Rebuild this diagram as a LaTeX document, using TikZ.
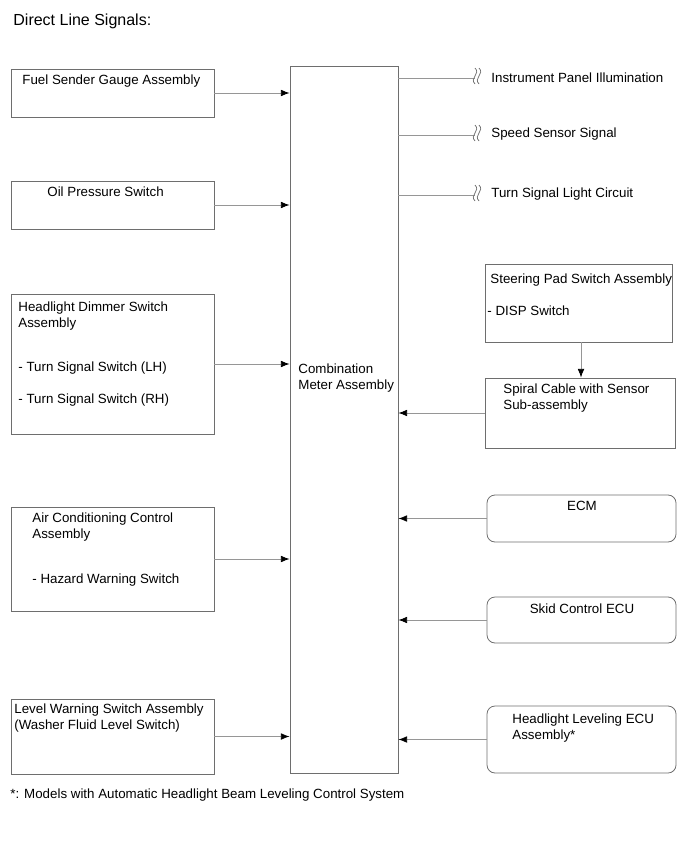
\documentclass[tikz,border=0pt]{standalone}
\usepackage{fontspec}
\setmainfont{Liberation Sans}
\usetikzlibrary{arrows.meta,fit}

\definecolor{boxgray}{RGB}{110,110,110}
\definecolor{wiregray}{RGB}{150,150,150}

\tikzset{every picture/.style={line width=0.6pt}}
\tikzset{
  box/.style={draw=boxgray, inner sep=0pt},
  rbox/.style={box, rounded corners=6pt},
  sig/.style={draw=wiregray, -{Latex[length=6.5pt,width=5pt,black]}},
  wire/.style={draw=wiregray},
  txt/.style={anchor=north west, inner sep=0pt, font=\fontsize{10}{12}\selectfont, align=left},
  brk/.pic={
    \draw [boxgray, line width=0.55pt] (0,-8) .. controls (-6,-2) and (6,2) .. (0,8);
    \draw [boxgray, line width=0.55pt] (4,-8) .. controls (-2,-2) and (10,2) .. (4,8);
  }
}

\begin{document}
\begin{tikzpicture}[x=0.75pt,y=0.75pt,yscale=-1,xscale=1]
\useasboundingbox (0,0) rectangle (691,855);

% Title
\node [anchor=north west, inner sep=0pt, font=\fontsize{12}{14}\selectfont] (title) at (13,14) {Direct Line Signals:};

% Combination meter
\node [box, fit={(290,66) (398,773)}] (meter) {};
\node [txt] (metertxt) at (298,363) {Combination\\Meter Assembly};

% Left column boxes
\node [box, fit={(11,69) (214,117)}] (fuel) {};
\node [txt] (fueltxt) at (22,74) {Fuel Sender Gauge Assembly};

\node [box, fit={(11,181) (214,229)}] (oil) {};
\node [txt] (oiltxt) at (47,186) {Oil Pressure Switch};

\node [box, fit={(11,294) (214,434)}] (dimmer) {};
\node [txt] (dimmertxt) at (18,301) {Headlight Dimmer Switch\\Assembly\\[21pt]- Turn Signal Switch (LH)\\[12pt]- Turn Signal Switch (RH)};

\node [box, fit={(11,507) (214,611)}] (aircon) {};
\node [txt] (aircontxt) at (32,512) {Air Conditioning Control\\Assembly\\[22pt]- Hazard Warning Switch};

\node [box, fit={(11,699) (214,774)}] (level) {};
\node [txt] (leveltxt) at (14,703) {Level Warning Switch Assembly\\(Washer Fluid Level Switch)};

% Right column boxes
\node [box, fit={(485,264) (672,342)}] (steer) {};
\node [txt] (steertxt) at (490,273) {Steering Pad Switch Assembly};
\node [txt] (disptxt) at (487,305) {- DISP Switch};

\node [box, fit={(485,378) (675,448)}] (spiral) {};
\node [txt] (spiraltxt) at (503,383) {Spiral Cable with Sensor\\Sub-assembly};

\node [rbox, fit={(487,495) (676,542)}] (ecm) {};
\node [txt, anchor=north] (ecmtxt) at (582,501) {ECM};

\node [rbox, fit={(487,597) (676,643)}] (skid) {};
\node [txt, anchor=north] (skidtxt) at (582,603) {Skid Control ECU};

\node [rbox, fit={(487,706) (676,773)}] (hlev) {};
\node [txt] (hlevtxt) at (512,713) {Headlight Leveling ECU\\Assembly*};

% Inputs to meter
\foreach \src in {fuel,oil,dimmer,aircon,level}
  \draw [sig] (\src.east) -- (\src.east -| meter.west);
\foreach \src in {spiral,ecm,skid,hlev}
  \draw [sig] (\src.west) -- (\src.west -| meter.east);
\draw [sig] (steer.south -| 581,0) -- (spiral.north -| 581,0);

% Outputs with line breaks
\coordinate (ipi) at (475,78);
\coordinate (spd) at (475,135);
\coordinate (tsl) at (475,195);
\foreach \out/\lbl in {ipi/Instrument Panel Illumination,spd/Speed Sensor Signal,tsl/Turn Signal Light Circuit}{
  \draw [wire] (\out -| meter.east) -- (\out);
  \pic at ([yshift=-1.5pt]\out) {brk};
  \node [txt, anchor=west] at ([xshift=12pt,yshift=-0.5pt]\out) {\lbl};
}

% Footnote
\node [anchor=north west, inner sep=0pt, font=\fontsize{10}{12}\selectfont] (note) at (10,788) {*: Models with Automatic Headlight Beam Leveling Control System};

\end{tikzpicture}
\end{document}
